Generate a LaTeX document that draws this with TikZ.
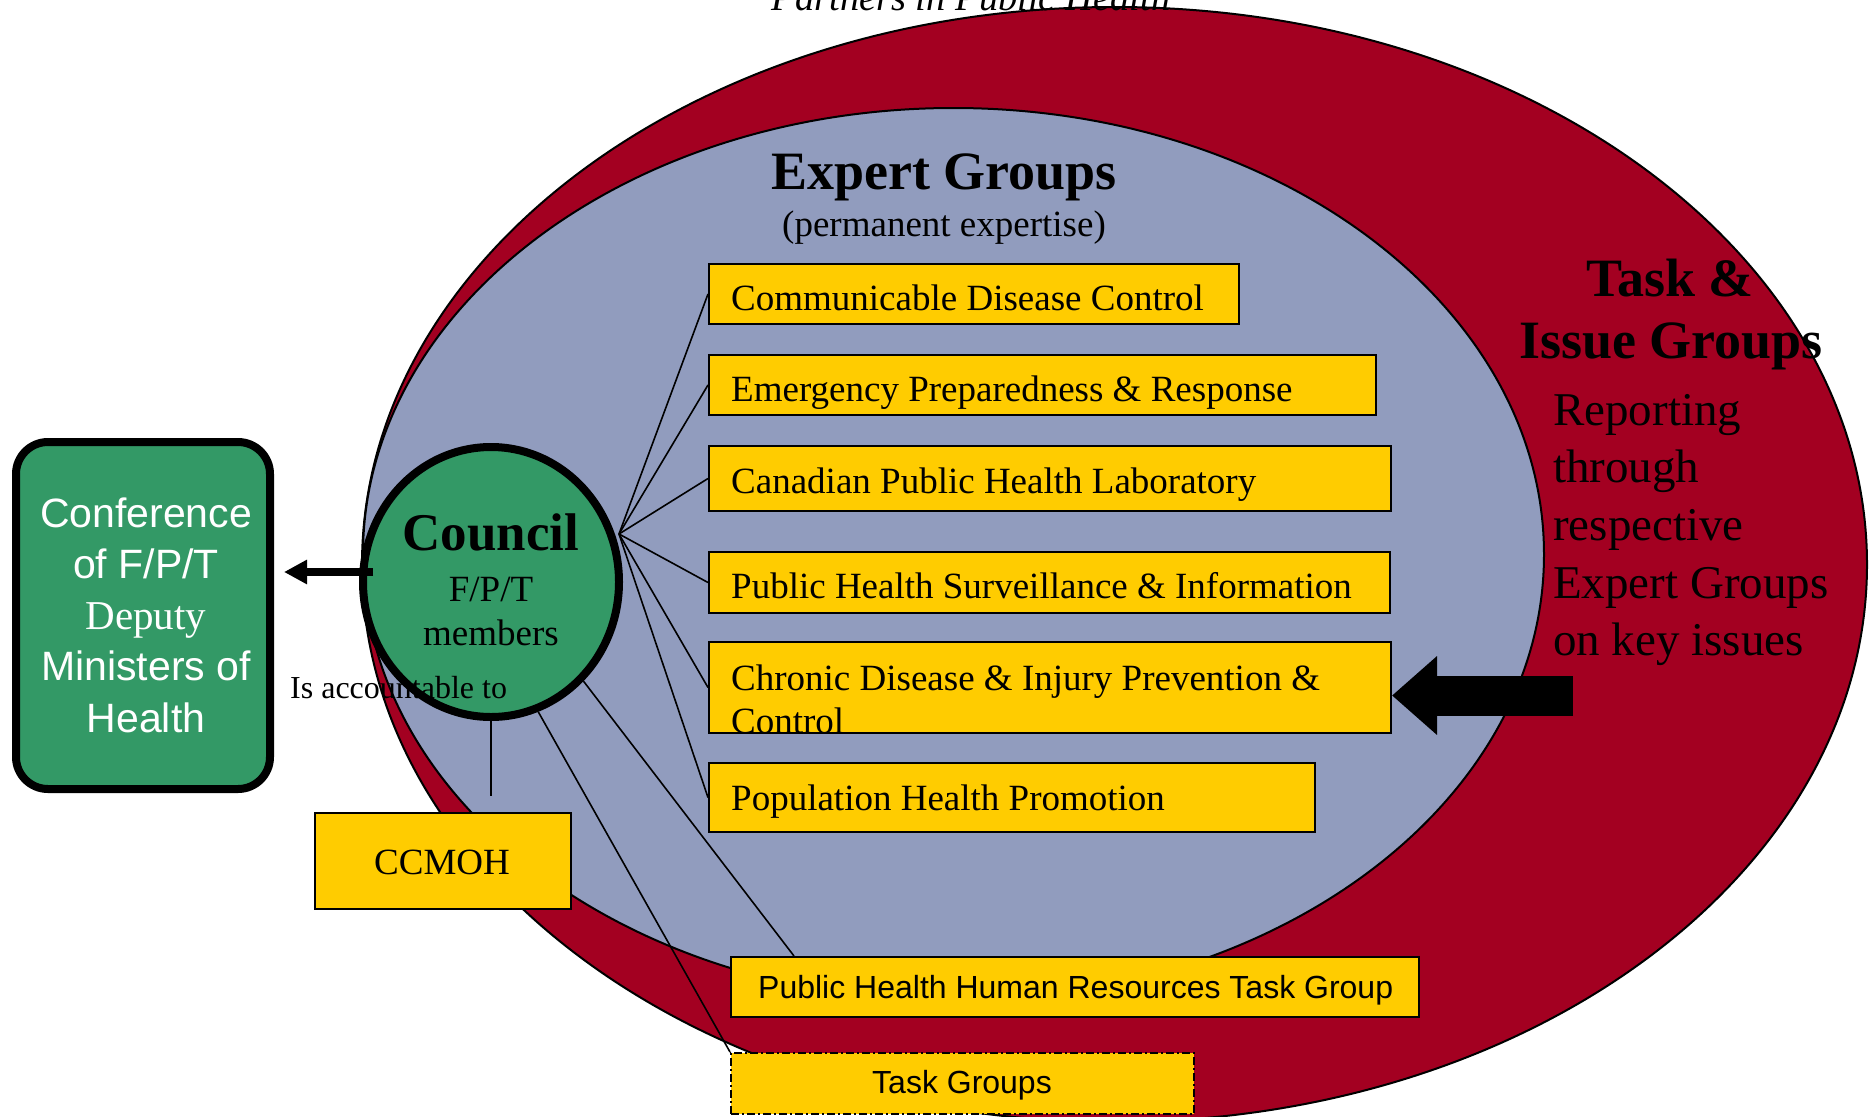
\documentclass[tikz,border=0pt]{standalone}
\usepackage{fontspec}
\setmainfont{Liberation Serif}
\setsansfont{Liberation Sans}
\usetikzlibrary{arrows.meta,shapes.geometric}
\definecolor{redc}{HTML}{A30021}
\definecolor{bluec}{HTML}{919CBE}
\definecolor{greenc}{HTML}{339966}
\definecolor{yellowc}{HTML}{FFCC00}
\newcommand\myfs[1]{\fontsize{#1pt}{#1pt}\selectfont}
\tikzset{
  ybox/.style={draw=black, line width=2pt, fill=yellowc, inner sep=0pt},
  boxtext/.style={font=\myfs{37}, inner sep=0pt, anchor=base west},
  conn/.style={draw=black, line width=1.6pt},
  conftext/.style={text=white, inner sep=0pt, anchor=base},
  rtext/.style={font=\myfs{47}, inner sep=0pt, anchor=base west},
}
\begin{document}
\begin{tikzpicture}[x=1pt,y=-1pt]
\useasboundingbox (0,0) rectangle (1876,1116);
\clip (0,0) rectangle (1876,1116);
\fill[white] (0,0) rectangle (1876,1116);

% ellipses
\draw[fill=redc, line width=2pt] (1114.5,564.5) ellipse [x radius=752.5pt, y radius=557.5pt];
\draw[fill=bluec, line width=2pt] (953.5,554.5) ellipse [x radius=590.5pt, y radius=446.5pt];

\node[inner sep=0pt, anchor=base, font=\itshape\myfs{38.5}] (partners) at (971,11) {Partners in Public Health};

% boxes
\node[ybox, minimum width=530pt, minimum height=60pt] (box1) at (974,294) {};
\node[ybox, minimum width=667pt, minimum height=60pt] (box2) at (1042.5,385) {};
\node[ybox, minimum width=682pt, minimum height=65pt] (box3) at (1050,478.5) {};
\node[ybox, minimum width=681pt, minimum height=61pt] (box4) at (1049.5,582.5) {};
\node[ybox, minimum width=682pt, minimum height=91pt] (box5) at (1050,687.5) {};
\node[ybox, minimum width=606pt, minimum height=69pt] (box6) at (1012,797.5) {};
\node[ybox, minimum width=256pt, minimum height=96pt] (ccmoh) at (443,861) {};
\node[ybox, minimum width=688pt, minimum height=60pt] (phhr) at (1075,987) {};
\node[ybox, dash pattern=on 8pt off 3pt on 2pt off 3pt, minimum width=463pt, minimum height=61pt] (taskg) at (962.5,1083.5) {};

% council geometry (drawn later), fan point
\coordinate (fan) at (619,534);
\node[ellipse, minimum width=256pt, minimum height=270pt, inner sep=0pt, line width=8pt] (councilshape) at (491,582) {};

% connectors
\foreach \b in {box1,box2,box3,box4,box5,box6}{
  \draw[conn] (fan) -- (\b.west);
}
\draw[conn] (councilshape.-47) -- ([xshift=64pt]phhr.north west);
\draw[conn] (councilshape.-70) -- (taskg.north west);
\draw[conn] (councilshape.south) -- ([yshift=16pt]councilshape.south |- ccmoh.north);

% council
\node[ellipse, draw=black, fill=greenc, line width=8pt, minimum width=256pt, minimum height=270pt, inner sep=0pt] (council) at (491,582) {};

% conference box
\node[draw=black, fill=greenc, line width=8pt, rounded corners=32pt, minimum width=254pt, minimum height=347pt, inner sep=0pt] (conf) at (143,615.5) {};

% texts
\node[boxtext] (t1) at (731,310) {Communicable Disease Control};
\node[boxtext] (t2) at (731,401) {Emergency Preparedness \& Response};
\node[boxtext] (t3) at (731,493) {Canadian Public Health Laboratory};
\node[boxtext] (t4) at (731,598) {Public Health Surveillance \& Information};
\node[boxtext] (t5a) at (731,690) {Chronic Disease \& Injury Prevention \&};
\node[boxtext] (t5b) at (731,733) {Control};
\node[boxtext] (t6) at (731,810) {Population Health Promotion};
\node[inner sep=0pt, anchor=base, font=\myfs{37}] (tccmoh) at (442,874) {CCMOH};
\node[inner sep=0pt, anchor=base west, font=\sffamily\myfs{32}] (tphhr) at (758,998) {Public Health Human Resources Task Group};
\node[inner sep=0pt, anchor=base, font=\sffamily\myfs{32}] (ttask) at (962,1093) {Task Groups};

\node[inner sep=0pt, anchor=base, font=\bfseries\myfs{54}] (eg) at (944,189) {Expert Groups};
\node[inner sep=0pt, anchor=base, font=\myfs{37}] (egsub) at (944,236) {(permanent expertise)};

\node[inner sep=0pt, anchor=base, font=\bfseries\myfs{54}] (ti1) at (1670,296) {Task \&};
\node[inner sep=0pt, anchor=base, font=\bfseries\myfs{54}] (ti2) at (1671,358) {Issue Groups};
\node[rtext] (r1) at (1553,425) {Reporting};
\node[rtext] (r2) at (1553,482) {through};
\node[rtext] (r3) at (1553,540) {respective};
\node[rtext] (r4) at (1553,598) {Expert Groups};
\node[rtext] (r5) at (1553,655) {on key issues};

\node[inner sep=0pt, anchor=base, font=\bfseries\myfs{53}] (tc1) at (491,550) {Council};
\node[inner sep=0pt, anchor=base, font=\myfs{37}] (tc2) at (491,601) {F/P/T};
\node[inner sep=0pt, anchor=base, font=\myfs{37}] (tc3) at (491,645) {members};

\node[conftext, font=\sffamily\myfs{41}] (c1) at (146,527) {Conference};
\node[conftext, font=\sffamily\myfs{41}] (c2) at (146,578) {of F/P/T};
\node[conftext, font=\myfs{41}] (c3) at (146,629) {Deputy};
\node[conftext, font=\sffamily\myfs{41}] (c4) at (146,680) {Ministers of};
\node[conftext, font=\sffamily\myfs{41}] (c5) at (146,732) {Health};

\node[inner sep=0pt, anchor=base west, font=\myfs{32}] (acc) at (290,698) {Is accountable to};

% arrows
\coordinate (accstart) at ([xshift=14pt,yshift=10pt]council.west);
\draw[line width=8pt, -{Triangle[length=23pt,width=23pt]}, shorten >=10pt] (accstart) -- (conf.east |- accstart);
\coordinate (bigstart) at (1573,695.5);
\draw[line width=40pt, -{Triangle[length=45pt,width=76pt]}] (bigstart) -- ([yshift=-8pt]box5.east);
\end{tikzpicture}
\end{document}
